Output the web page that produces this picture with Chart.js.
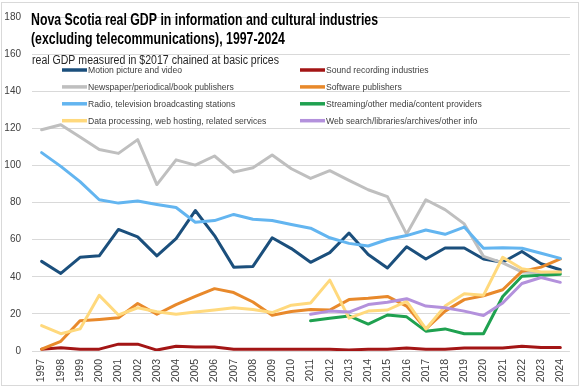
<!DOCTYPE html>
<html><head><meta charset="utf-8">
<script src="https://cdn.jsdelivr.net/npm/chart.js@4"></script>
<style>html,body{margin:0;padding:0;background:#fff;}canvas{display:block;}</style>
</head><body>
<canvas id="c" width="581" height="388"></canvas>
<script>
const years = ['1997','1998','1999','2000','2001','2002','2003','2004','2005','2006','2007','2008','2009','2010','2011','2012','2013','2014','2015','2016','2017','2018','2019','2020','2021','2022','2023','2024'];
const yTicks = [0,20,40,60,80,100,120,140,160,180];
const titleLines = ['Nova Scotia real GDP in information and cultural industries','(excluding telecommunications), 1997-2024'];
const subtitle = 'real GDP measured in $2017 chained at basic prices';

const seriesNames = ['Motion picture and video','Sound recording industries','Newspaper/periodical/book publishers','Software publishers','Radio, television broadcasting stations','Streaming/other media/content providers','Data processing, web hosting, related services','Web search/libraries/archives/other info'];
const seriesColors = ['#1B4F7C','#A31515','#BFBFBF','#E8892B','#63B5F0','#1FA150','#FFD97D','#B391DC'];

const motionPicture = [48.3,41.8,50.5,51.3,65.5,61.5,51.3,60.6,75.7,62.2,45.2,45.6,61,55.2,47.8,53,63.6,52,44.7,56.2,49.6,55.5,55.5,49.6,47.8,53.6,47,43.8];
const soundRecording = [1,1.7,1,1,3.7,3.7,0.5,2.6,2.1,2.1,1,1,1,1,1,1,0.5,1,1,1.6,1,1,1.6,1.6,1.6,2.6,1.9,1.9];
const newspaper = [119.2,121.9,115.3,108.6,106.5,113.9,89.7,103,100.2,105.1,96.4,98.8,105.6,98.2,93,97.2,92,86.9,83.2,63,81.5,76.2,68.5,51,47.5,42.6,42.2,42.4];
const software = [1,5.2,16.3,17,17.9,25.6,19.8,25,29.4,33.6,31.5,26.4,19.3,21.3,22.4,22.1,27.7,28.4,29.4,24.2,11.9,21.5,27.7,29.8,33,42.9,45.2,49.6];
const radioTv = [106.9,99.5,91.3,81.5,79.7,80.8,79,77.3,69.4,70.3,73.6,71,70.3,68.2,66.2,61,58,56.6,60.1,62.2,65.2,62.9,66.8,55.4,55.7,55.4,52.7,49.9];
const streaming = [null,null,null,null,null,null,null,null,null,null,null,null,null,null,16.3,17.7,18.9,14.5,19.4,18.4,10.7,11.9,9.3,9.3,29.4,40.3,40.8,41.4];
const dataProcessing = [13.7,9.3,11.9,30,19.4,23.3,21.2,19.8,21,22.1,23.3,22.4,20.7,24.7,25.9,38.2,17.7,21.5,22.1,26.8,11.9,24.2,30.9,30,50.5,44.3,42.6,42.6];
const webSearch = [null,null,null,null,null,null,null,null,null,null,null,null,null,null,19.8,21.5,21,25,26.3,28.2,24.2,23.3,21.5,19.1,25.9,36.4,39.6,37];

const seriesValues = [motionPicture,soundRecording,newspaper,software,radioTv,streaming,dataProcessing,webSearch];

const FONT = "'Liberation Sans', Arial, sans-serif";

function drawScaledText(ctx, text, x, y, font, color, scale){
  ctx.save();
  ctx.font = font;
  ctx.fillStyle = color;
  ctx.translate(x, y);
  ctx.scale(scale, 1);
  ctx.fillText(text, 0, 0);
  ctx.restore();
}

const framePlugin = {
  id: 'frame',
  beforeDraw(chart){
    const ctx = chart.ctx;
    ctx.save();
    ctx.fillStyle = '#fff';
    ctx.fillRect(0,0,chart.width,chart.height);
    ctx.strokeStyle = '#D9D9D9';
    ctx.lineWidth = 1;
    ctx.strokeRect(1.5, 2.5, 577, 383);
    ctx.restore();
  }
};

const overlayPlugin = {
  id: 'overlay',
  afterDatasetsDraw(chart){
    const ctx = chart.ctx;
    ctx.save();
    ctx.textBaseline = 'alphabetic';
    ctx.textAlign = 'left';
    // title
    const tFont = 'bold 17px ' + FONT;
    ctx.font = tFont;
    const tScale = 347 / ctx.measureText(titleLines[0]).width;
    drawScaledText(ctx, titleLines[0], 31, 25, tFont, '#000', tScale);
    drawScaledText(ctx, titleLines[1], 31, 43.5, tFont, '#000', tScale);
    // subtitle
    const sFont = '12px ' + FONT;
    ctx.font = sFont;
    const sScale = 247 / ctx.measureText(subtitle).width;
    drawScaledText(ctx, subtitle, 32, 64, sFont, '#262626', sScale);
    // legend
    const lFont = '9.5px ' + FONT;
    ctx.font = lFont;
    const lScale = 94 / ctx.measureText(chart.data.datasets[0].label).width;
    ctx.textBaseline = 'middle';
    chart.data.datasets.forEach((ds, i) => {
      const col = i % 2, row = Math.floor(i / 2);
      const sx = col === 0 ? 62 : 300;
      const sy = 70 + row * 16.9;
      ctx.beginPath();
      ctx.strokeStyle = ds.borderColor;
      ctx.lineWidth = 3.5;
      ctx.lineCap = 'butt';
      ctx.moveTo(sx, sy);
      ctx.lineTo(sx + 25, sy);
      ctx.stroke();
      drawScaledText(ctx, ds.label, sx + 26, sy + 0.5, lFont, '#404040', lScale);
    });
    ctx.restore();
  }
};

const datasets = seriesNames.map((name, i) => ({
  label: name,
  data: seriesValues[i],
  borderColor: seriesColors[i],
  backgroundColor: seriesColors[i],
  borderWidth: 3,
  pointRadius: 0,
  pointHoverRadius: 0,
  tension: 0,
  spanGaps: false,
  borderJoinStyle: 'round',
  borderCapStyle: 'round',
  order: seriesNames.length - i
}));

new Chart(document.getElementById('c'), {
  type: 'line',
  data: { labels: years, datasets },
  options: {
    responsive: false,
    animation: false,
    devicePixelRatio: 1,
    layout: { padding: { top: 10, right: 4, left: 0, bottom: 0 } },
    plugins: { legend: { display: false }, title: { display: false }, tooltip: { enabled: false } },
    scales: {
      x: {
        type: 'category',
        offset: true,
        grid: { display: false, drawTicks: false },
        border: { display: false },
        ticks: {
          autoSkip: false, minRotation: 90, maxRotation: 90, padding: 8,
          color: '#404040', font: { family: FONT, size: 10.5 }
        },
        afterFit(scale){ scale.height = 37; }
      },
      y: {
        min: 0, max: 180,
        afterBuildTicks(scale){ scale.ticks = yTicks.map(v => ({ value: v })); },
        grid: { color: '#D9D9D9', lineWidth: 1, drawTicks: false },
        border: { display: false },
        ticks: { padding: 11, color: '#404040', font: { family: FONT, size: 10 } },
        afterFit(scale){ scale.width = 32; }
      }
    }
  },
  plugins: [framePlugin, overlayPlugin]
});
</script>
</body></html>
